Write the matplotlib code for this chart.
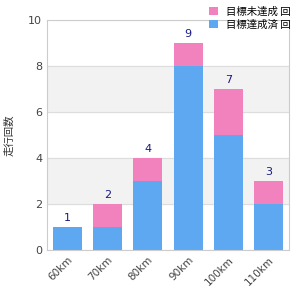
import matplotlib.pyplot as plt
import numpy as np

# distance categories and counts
categories = ['60km', '70km', '80km', '90km', '100km', '110km']
blue_vals = [1, 1, 3, 8, 5, 2]
pink_vals = [0, 1, 1, 1, 2, 1]
totals = [1, 2, 4, 9, 7, 3]
pink_label = '目標未達成 回'
blue_label = '目標達成済 回'
y_label = '走行回数'

cjk = ['Noto Sans CJK JP', 'DejaVu Sans']

fig = plt.figure(figsize=(3, 3), dpi=100)
ax = fig.add_axes([0.157, 0.167, 0.806, 0.767])

x = np.arange(len(categories))
# alternating bands
for lo in [2, 6]:
    ax.axhspan(lo, lo + 2, color='#f2f2f2', zorder=0)
ax.bar(x, blue_vals, width=0.72, color='#5ea8f2', label=blue_label, zorder=2)
ax.bar(x, pink_vals, width=0.72, bottom=blue_vals, color='#f282bd', label=pink_label, zorder=2)
for xi, t in zip(x, totals):
    ax.text(xi, t + 0.15, str(t), ha='center', va='bottom', fontsize=8, color='#1a1a80')

ax.set_xlim(-0.5, len(categories) - 0.5)
ax.set_ylim(0, 10)
ax.set_yticks([0, 2, 4, 6, 8, 10])
ax.yaxis.grid(True, color='#dddddd', linewidth=0.8, zorder=1)
ax.set_axisbelow(True)
ax.set_xticks(x)
ax.set_xticklabels(categories, rotation=45, ha='right', rotation_mode='anchor', fontsize=7.5, color='#444444')
ax.tick_params(axis='y', labelsize=8, colors='#444444', length=0)
ax.tick_params(axis='x', length=0)
for s in ax.spines.values():
    s.set_color('#cccccc')
ax.set_ylabel(y_label, fontsize=7.5, color='#333333', labelpad=10, family=cjk)

handles, labels = ax.get_legend_handles_labels()
fig.legend(handles[::-1], labels[::-1], loc='upper right', bbox_to_anchor=(1.0, 1.01), frameon=False,
           prop={'family': cjk, 'size': 7.5}, handlelength=0.8, handleheight=0.8,
           handletextpad=0.8, labelspacing=0.3)

plt.savefig('out.png')
